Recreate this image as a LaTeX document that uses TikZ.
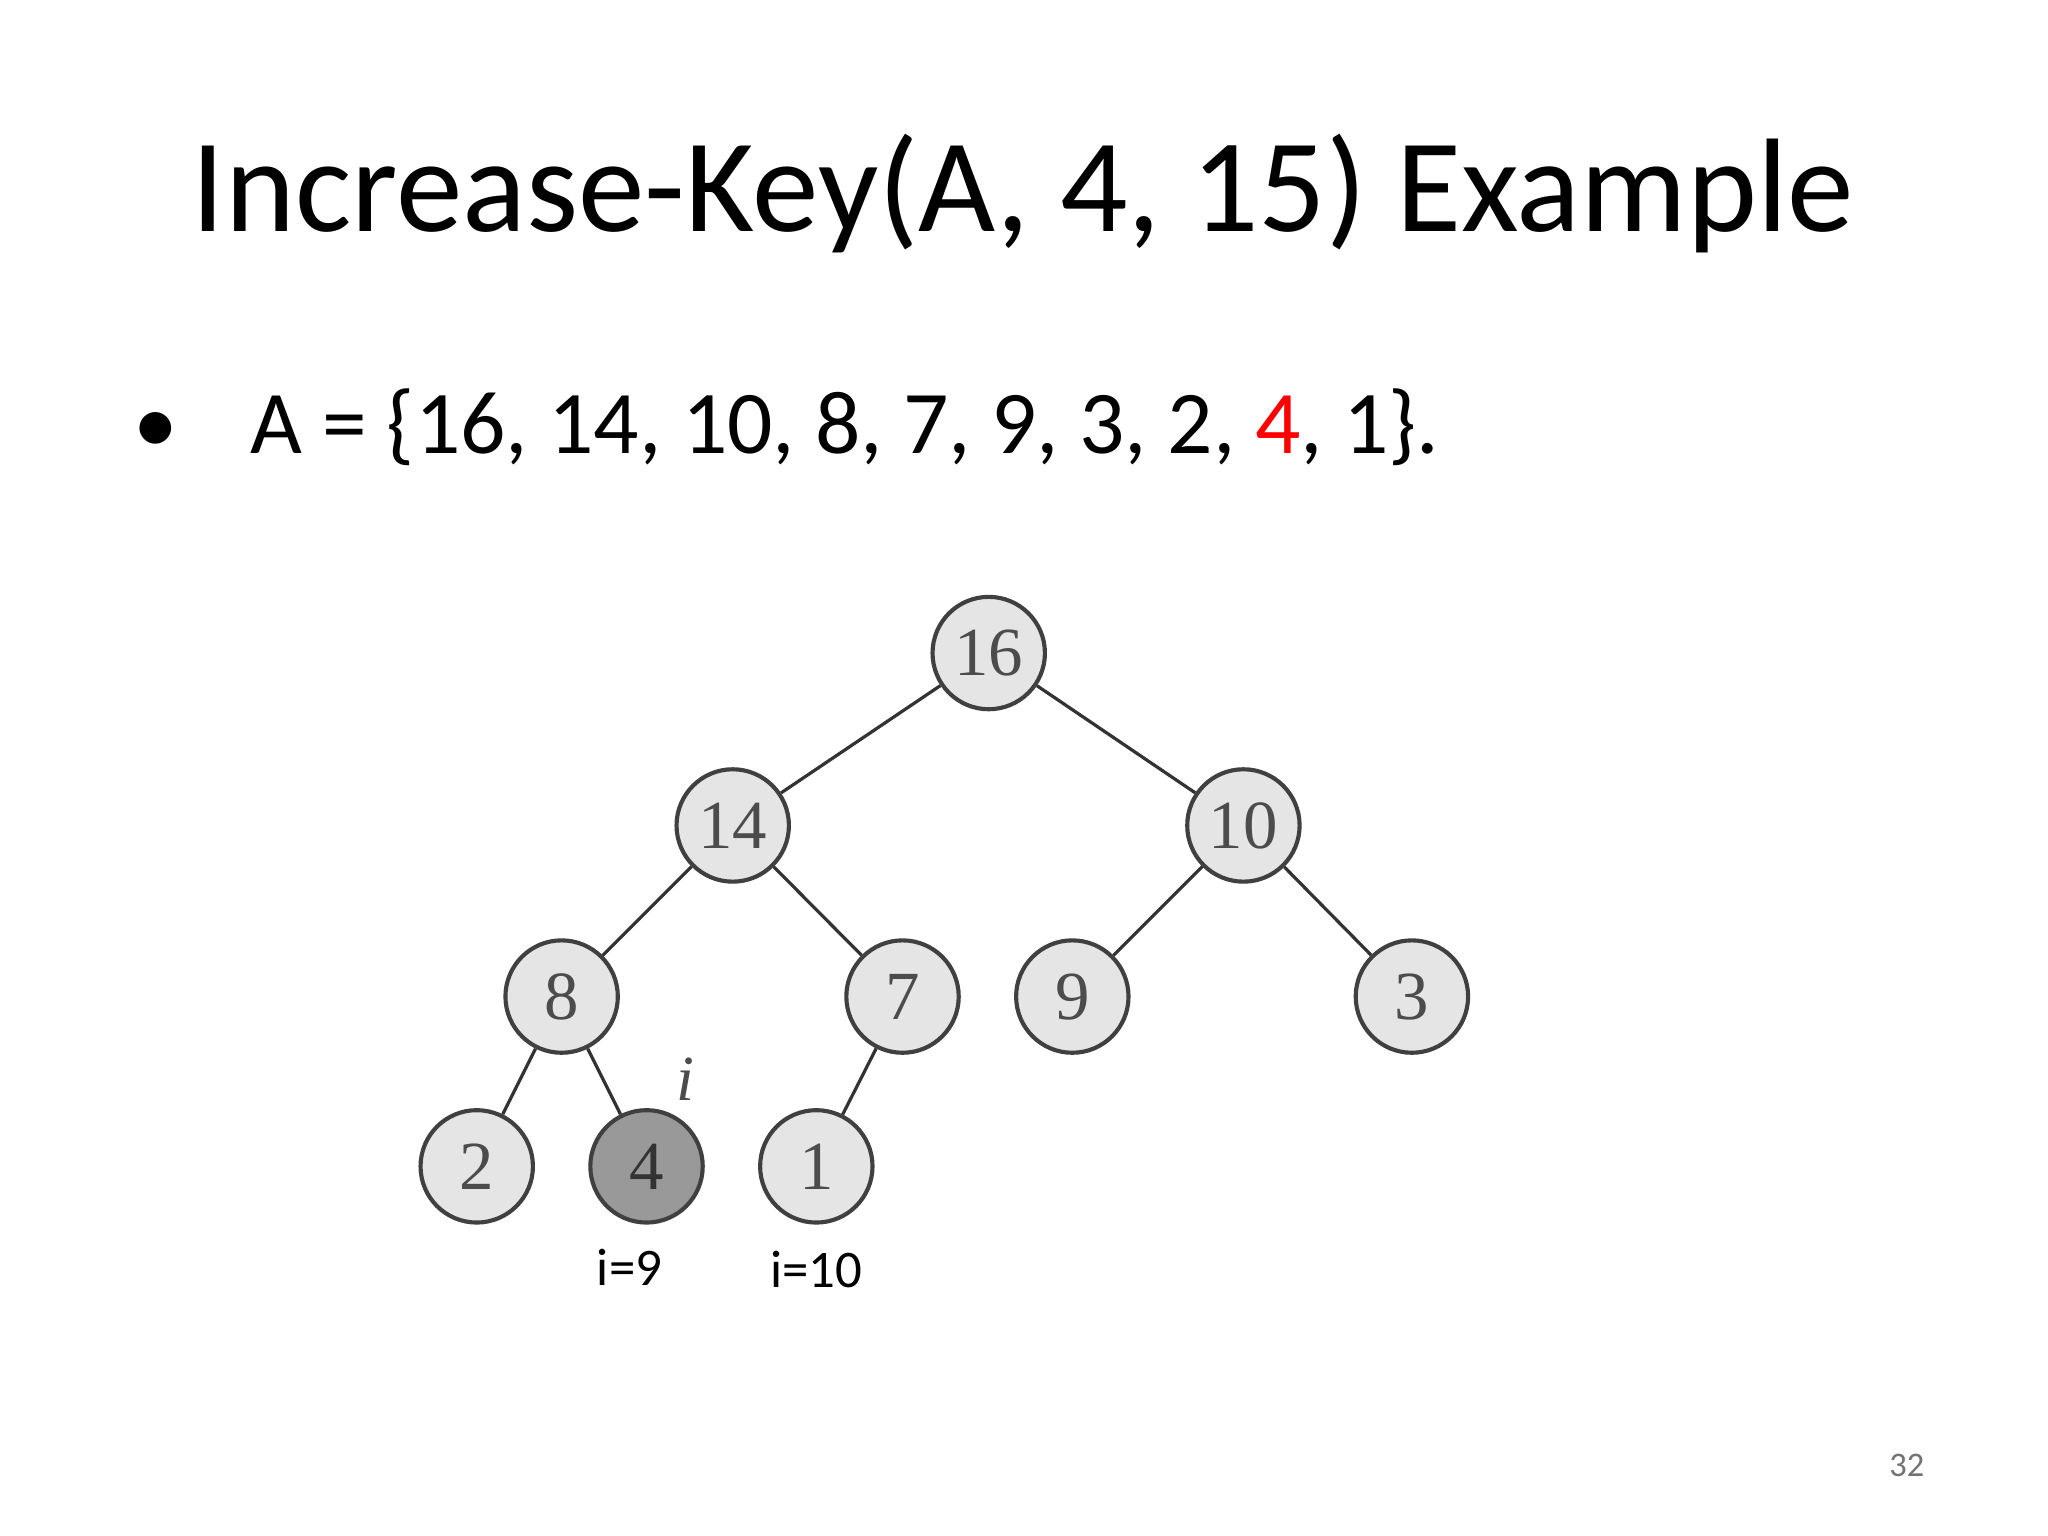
\documentclass[tikz,border=0pt]{standalone}
\usepackage{fontspec}
\setmainfont{Carlito}
\newfontfamily\treefont{Liberation Serif}
\begin{document}
\begin{tikzpicture}[x=0.01cm,y=-0.01cm,
  hn/.style={circle,draw=black!75,line width=0.9pt,fill=black!10,minimum size=86\pgflinewidth,inner sep=0pt,font=\treefont\fontsize{15}{15}\selectfont,text=black!70},
  ed/.style={draw=black!80,line width=0.7pt}]
\useasboundingbox (0,0) rectangle (1568,1176);
\fill[white] (0,0) rectangle (1568,1176);
\node[font=\fontsize{29}{32}\selectfont] (title) at (783,148) {Increase-Key(A, 4, 15) Example};
\node[anchor=west,font=\fontsize{19.5}{22}\selectfont] (bul) at (90,327) {\textbullet\hspace{0.8em}A = \{16, 14, 10, 8, 7, 9, 3, 2, \textcolor{red}{4}, 1\}.};
\tikzset{hn/.append style={minimum size=0.86cm}}
\node[hn] (n16) at (757,500) {16};
\node[hn] (n14) at (561,632) {14};
\node[hn] (n10) at (952,632) {10};
\node[hn] (n8) at (430,763) {8};
\node[hn] (n7) at (691,763) {7};
\node[hn] (n9) at (821,763) {9};
\node[hn] (n3) at (1081,763) {3};
\node[hn] (n2) at (365,893) {2};
\node[hn,fill=black!40,text=black!80] (n4) at (495,893) {4};
\node[hn] (n1) at (625,893) {1};
\draw[ed] (n16)--(n14) (n16)--(n10) (n14)--(n8) (n14)--(n7) (n10)--(n9) (n10)--(n3)
  (n8)--(n2) (n8)--(n4) (n7)--(n1);
\node[font=\treefont\itshape\fontsize{14}{14}\selectfont,text=black!70] (li) at (525,826) {i};
\node[font=\fontsize{11.5}{12}\selectfont] (l9) at (482,970) {i=9};
\node[font=\fontsize{11.5}{12}\selectfont] (l10) at (625,972) {i=10};
\node[font=\fontsize{7.5}{8}\selectfont,text=black!55] (pg) at (1460,1122) {32};
\end{tikzpicture}
\end{document}
